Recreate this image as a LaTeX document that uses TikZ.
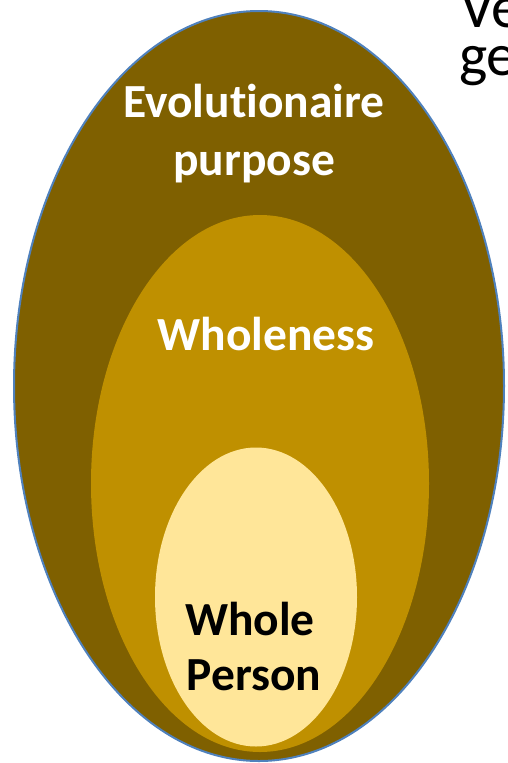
\documentclass[tikz,border=0pt]{standalone}
\usepackage{fontspec}
\setmainfont[Ligatures=NoCommon]{Carlito}
\definecolor{outerfill}{RGB}{127,96,0}
\definecolor{midfill}{RGB}{191,144,0}
\definecolor{innerfill}{RGB}{255,230,153}
\definecolor{edgeblue}{RGB}{79,129,189}
\begin{document}
\begin{tikzpicture}[x=1pt,y=-1pt,
  lbl/.style={anchor=base,inner sep=0pt,font=\bfseries\fontsize{47.5}{57}\selectfont},
  side/.style={anchor=base west,inner sep=0pt,font=\fontsize{60}{60}\selectfont}]
\useasboundingbox (0,0) rectangle (507,763);
\clip (0,0) rectangle (507,763);
\fill[outerfill,draw=edgeblue,line width=2pt] (259,386) ellipse [x radius=245pt, y radius=375pt];
\fill[midfill] (260,483.5) ellipse [x radius=169pt, y radius=268.5pt];
\fill[innerfill] (256,597) ellipse [x radius=101pt, y radius=149.5pt];
\node[lbl,text=white] (evo) at (254,117) {Evolutionaire};
\node[lbl,text=white] (pur) at (254,175) {purpose};
\node[lbl,text=white] (who) at (266,350) {Wholeness};
\node[lbl,text=black] (wh) at (250,635) {Whole};
\node[lbl,text=black] (per) at (254,690) {Person};
\node[side] (ve) at (460,27) {Ve};
\node[side] (ge) at (459,75) {ge};
\end{tikzpicture}
\end{document}
